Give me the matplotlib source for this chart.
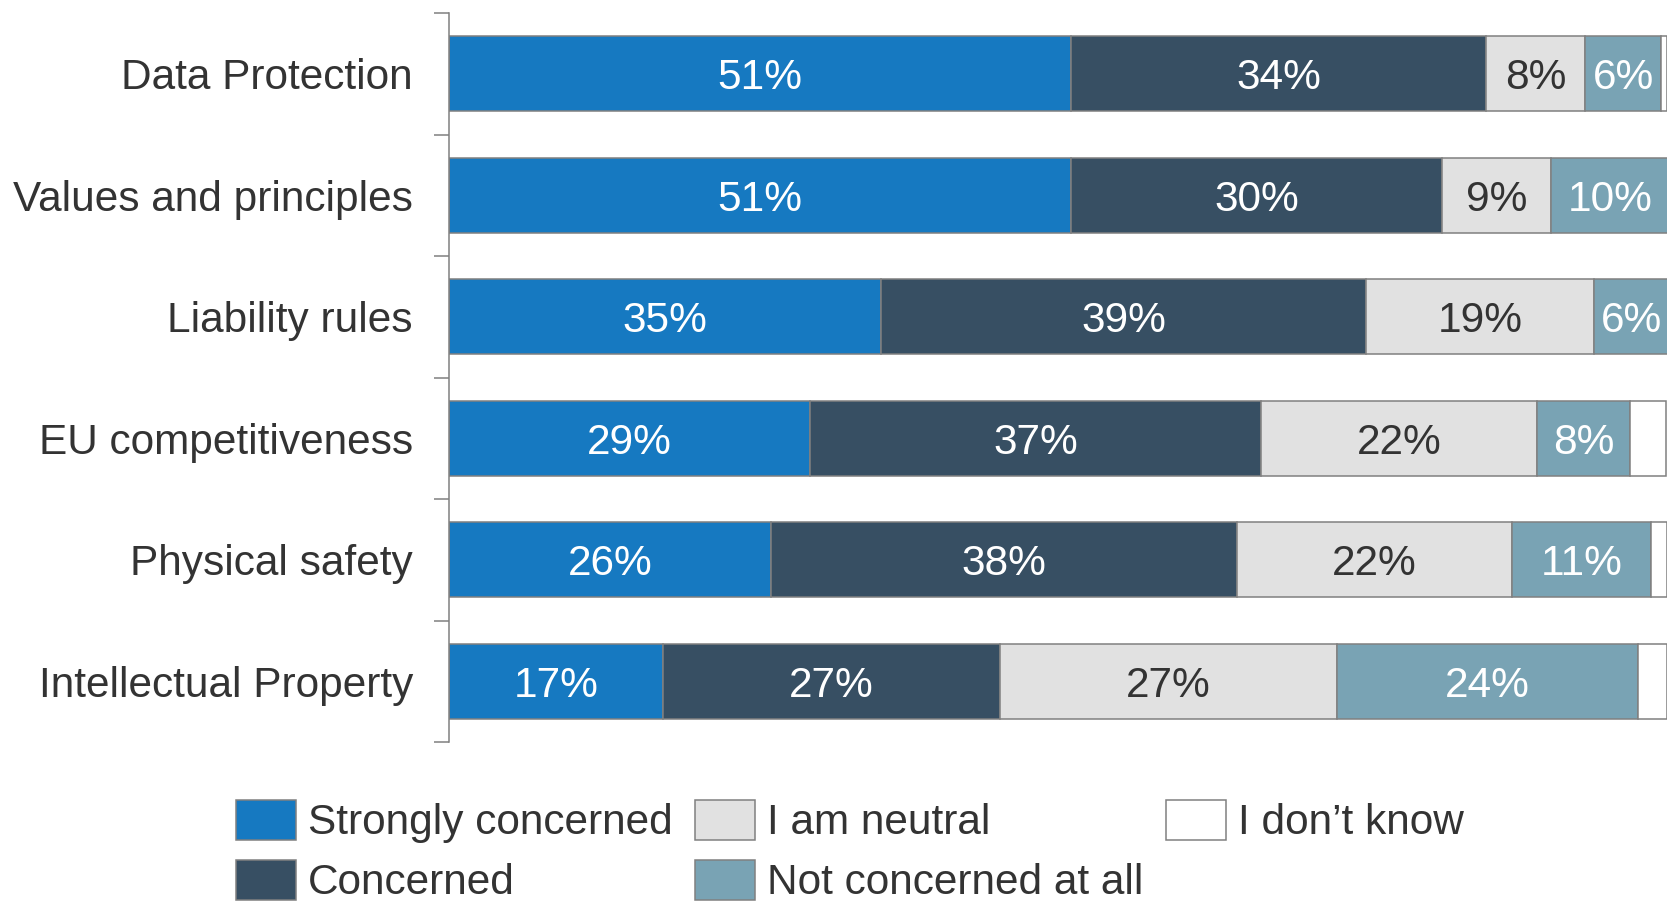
import matplotlib
matplotlib.use("Agg")
import matplotlib.pyplot as plt
from matplotlib.patches import Patch
import numpy as np

plt.rcParams['font.family'] = ['Liberation Sans', 'DejaVu Sans']

categories = ["Data Protection", "Values and principles", "Liability rules",
              "EU competitiveness", "Physical safety", "Intellectual Property"]
series_names = ["Strongly concerned", "Concerned", "I am neutral",
                "Not concerned at all", "I don\u2019t know"]

strongly = [51.1, 51.1, 35.5, 29.6, 26.4, 17.6]
concerned = [34.0, 30.4, 39.8, 37.1, 38.3, 27.6]
neutral = [8.2, 9.0, 18.7, 22.6, 22.6, 27.7]
not_concerned = [6.2, 9.6, 6.1, 7.7, 11.4, 24.7]
dont_know = [0.5, 0.0, 0.0, 2.9, 1.3, 2.4]

strongly_lbl = ["51%", "51%", "35%", "29%", "26%", "17%"]
concerned_lbl = ["34%", "30%", "39%", "37%", "38%", "27%"]
neutral_lbl = ["8%", "9%", "19%", "22%", "22%", "27%"]
not_concerned_lbl = ["6%", "10%", "6%", "8%", "11%", "24%"]

colors = ["#1679c1", "#374f63", "#e1e1e1", "#79a3b4", "#ffffff"]
text_colors = ["white", "white", "#333333", "white", None]
EDGE = "#808080"
FS = 30.5

W, H = 1667, 901
fig = plt.figure(figsize=(W / 100, H / 100), dpi=100)
ax = fig.add_axes([449 / W, (H - 742) / H, 1 - 449 / W, (742 - 13) / H])

y = np.arange(len(categories))
data = [strongly, concerned, neutral, not_concerned, dont_know]
labels = [strongly_lbl, concerned_lbl, neutral_lbl, not_concerned_lbl, None]
left = np.zeros(len(categories))
for vals, col, tcol, lbls in zip(data, colors, text_colors, labels):
    vals = np.array(vals)
    ax.barh(y, vals, left=left, height=0.617, color=col, edgecolor=EDGE,
            linewidth=1.1, zorder=2)
    if lbls is not None:
        for yi, (l, v, t) in enumerate(zip(left, vals, lbls)):
            ax.text(l + v / 2, yi, t, ha="center", va="center_baseline",
                    color=tcol, fontsize=FS, zorder=3)
    left = left + vals

ax.set_xlim(0, 100)
ax.set_ylim(len(categories) - 0.5, -0.5)
ax.set_yticks(y)
ax.set_yticklabels(categories, fontsize=FS, color="#333333")
ax.set_yticks(np.arange(-0.5, len(categories), 1.0), minor=True)
ax.tick_params(axis="y", which="major", length=0, pad=26)
ax.tick_params(axis="y", which="minor", length=10.8, width=1.1, color=EDGE)
ax.set_xticks([])
for s in ["top", "right", "bottom"]:
    ax.spines[s].set_visible(False)
ax.spines["left"].set_color(EDGE)
ax.spines["left"].set_linewidth(1.1)

handles = [Patch(facecolor=c, edgecolor=EDGE, linewidth=1.1) for c in colors]
fig.legend(handles, series_names, loc="upper left",
           bbox_to_anchor=(236 / W, 1 - 800 / H), ncol=3, frameon=False,
           fontsize=FS, handlelength=1.415, handleheight=1.06,
           handletextpad=0.28, columnspacing=0.54, labelspacing=0.4,
           borderpad=0, borderaxespad=0, labelcolor="#333333")

fig.savefig("out.png", dpi=100)
